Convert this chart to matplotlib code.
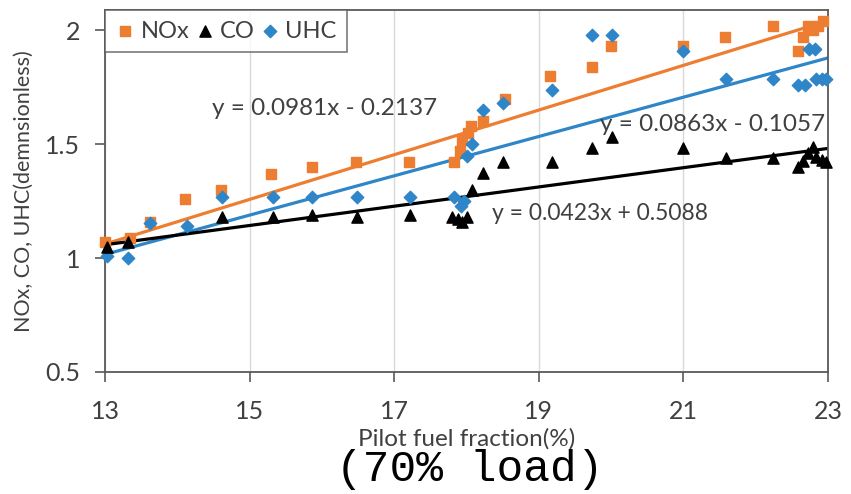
import matplotlib.pyplot as plt
import numpy as np

# NOx (orange squares)
nox_x = [13.0, 13.35, 13.62, 14.1, 14.6, 15.3, 15.86, 16.47, 17.2, 17.82, 17.91, 17.94,
         18.02, 18.06, 18.23, 18.53, 19.15, 19.74, 20.0, 21.0, 21.58, 22.24, 22.58,
         22.65, 22.72, 22.79, 22.86, 22.93]
nox_y = [1.07, 1.09, 1.16, 1.26, 1.30, 1.37, 1.40, 1.42, 1.42, 1.42, 1.47, 1.52,
         1.55, 1.58, 1.60, 1.70, 1.80, 1.84, 1.93, 1.93, 1.97, 2.02, 1.91,
         1.97, 2.02, 2.00, 2.02, 2.04]

# CO (black triangles)
co_x = [13.03, 13.32, 14.62, 15.32, 15.86, 16.48, 17.22, 17.8, 17.88, 17.94, 18.0,
        18.08, 18.23, 18.5, 19.18, 19.74, 20.01, 21.0, 21.59, 22.24, 22.58, 22.65,
        22.72, 22.79, 22.84, 22.91, 22.97]
co_y = [1.05, 1.07, 1.18, 1.18, 1.19, 1.18, 1.19, 1.18, 1.17, 1.16, 1.18,
        1.30, 1.375, 1.42, 1.42, 1.485, 1.53, 1.485, 1.44, 1.44, 1.40, 1.425,
        1.46, 1.49, 1.445, 1.43, 1.42]

# UHC (blue diamonds)
uhc_x = [13.03, 13.32, 13.62, 14.13, 14.62, 15.32, 15.86, 16.48, 17.22, 17.82, 17.93,
         17.96, 18.0, 18.08, 18.23, 18.5, 19.18, 19.74, 20.01, 21.0, 21.59, 22.24,
         22.58, 22.68, 22.74, 22.82, 22.84, 22.91, 22.97]
uhc_y = [1.01, 1.00, 1.155, 1.14, 1.27, 1.27, 1.27, 1.27, 1.27, 1.27, 1.23,
         1.25, 1.45, 1.50, 1.65, 1.68, 1.74, 1.98, 1.98, 1.91, 1.785, 1.785,
         1.76, 1.76, 1.92, 1.92, 1.785, 1.785, 1.785]

# linear trend coefficients (slope, intercept)
nox_fit = (0.0981, -0.2137)
co_fit = (0.0423, 0.5088)
uhc_fit = (0.0863, -0.1057)

orange = '#ED7D31'
blue = '#2E86C8'

fig = plt.figure(figsize=(8.51, 4.94), dpi=100)
ax = fig.add_axes([0.1234, 0.247, 0.8496, 0.733])

xs = np.array([13, 23])
ax.plot(xs, nox_fit[0] * xs + nox_fit[1], color=orange, lw=2.3, zorder=2)
ax.plot(xs, uhc_fit[0] * xs + uhc_fit[1], color=blue, lw=2.3, zorder=2)
ax.plot(xs, co_fit[0] * xs + co_fit[1], color='black', lw=2.3, zorder=2)

ax.scatter(nox_x, nox_y, marker='s', s=55, color=orange, label='NOx', zorder=3, clip_on=False)
ax.scatter(co_x, co_y, marker='^', s=65, color='black', label='CO', zorder=4, clip_on=False)
ax.scatter(uhc_x, uhc_y, marker='D', s=40, color=blue, label='UHC', zorder=3, clip_on=False)

eq_font = dict(family='Lato', color='#404040')
ax.text(14.48, 1.655, 'y = 0.0981x - 0.2137', va='center', ha='left', fontsize=17.5, **eq_font)
ax.text(19.85, 1.588, 'y = 0.0863x - 0.1057', va='center', ha='left', fontsize=17.5, **eq_font)
ax.text(18.35, 1.195, 'y = 0.0423x + 0.5088', va='center', ha='left', fontsize=16.5, **eq_font)

ax.set_xlim(13, 23)
ax.set_ylim(0.5, 2.09)
ax.set_xticks([13, 15, 17, 19, 21, 23])
ax.set_yticks([0.5, 1, 1.5, 2])
ax.set_yticklabels(['0.5', '1', '1.5', '2'])
ax.xaxis.grid(True, color='#d9d9d9', lw=1)
ax.set_axisbelow(True)

for sp in ax.spines.values():
    sp.set_color('#595959')
    sp.set_linewidth(1.3)

ax.tick_params(axis='both', direction='out', length=7, width=1.2, color='#595959',
               labelsize=18, labelcolor='#404040')
ax.tick_params(axis='x', pad=13)
ax.tick_params(axis='y', pad=11)
for lab in ax.get_xticklabels() + ax.get_yticklabels():
    lab.set_family('Lato')

ax.set_xlabel('Pilot fuel fraction(%)', family='Lato', fontsize=17.5, color='#404040', labelpad=4)
ax.set_ylabel('NOx, CO, UHC(demnsionless)', family='Lato', fontsize=15.5, color='#404040', labelpad=8)

leg = ax.legend(loc='upper left', ncol=3, frameon=True, fancybox=False,
                prop={'family': 'Lato', 'size': 17}, handlelength=0.8, handletextpad=0.25,
                columnspacing=0.25, borderpad=0.45, borderaxespad=0.0, scatterpoints=1)
leg.get_frame().set_edgecolor('#595959')
leg.get_frame().set_linewidth(1.2)
for t in leg.get_texts():
    t.set_color('#404040')

fig.text(0.552, 0.05, '(70% load)', family='Liberation Mono', fontsize=32,
         ha='center', va='center', color='black')

fig.savefig('out.png', dpi=100)
